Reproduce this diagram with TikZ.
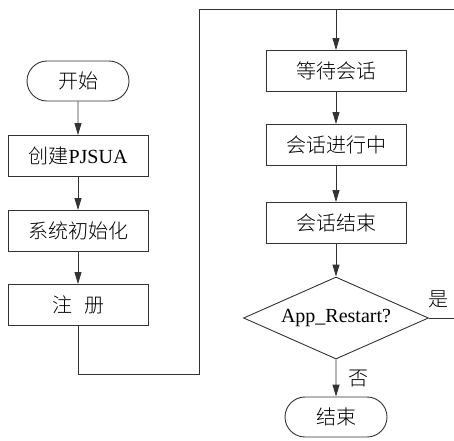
\documentclass[tikz,border=0pt]{standalone}
\usepackage{fontspec}
\setmainfont{Liberation Serif}
\newfontfamily\cjk{Noto Sans CJK SC Light}
\usetikzlibrary{shapes.misc,shapes.geometric,arrows.meta}
\begin{document}
\begin{tikzpicture}[x=1pt,y=-1pt,
  line/.style={draw=black!80,line width=0.9pt},
  arr/.style={line,-{Triangle[length=12pt,width=7pt]}},
  procbox/.style={line,rectangle,minimum width=140pt,minimum height=41pt,inner sep=0pt,font=\fontsize{20}{24}\selectfont},
  term/.style={line,rounded rectangle,minimum width=102pt,minimum height=40pt,inner sep=0pt,font=\fontsize{20}{24}\selectfont},
  decision/.style={line,diamond,aspect=2.25,minimum width=185pt,minimum height=82pt,inner sep=0pt,font=\fontsize{20}{24}\selectfont},
  lbl/.style={font=\fontsize{20}{24}\selectfont}]
\useasboundingbox (0,0) rectangle (454,440);
\clip (0,0) rectangle (454,440);
\node[term] (start) at (78,81) {\cjk 开始};
\node[procbox] (create) at (78,156) {\cjk 创建\rmfamily PJSUA};
\node[procbox] (init) at (78,231) {\cjk 系统初始化};
\node[procbox] (reg) at (78,305) {\cjk 注\hspace{0.6em}册};
\node[procbox] (wait) at (336,71) {\cjk 等待会话};
\node[procbox] (talk) at (336,145) {\cjk 会话进行中};
\node[procbox] (endt) at (336,223) {\cjk 会话结束};
\node[decision] (dec) at (336,318) {App\_Restart?};
\node[term] (stop) at (336,417) {\cjk 结束};
\coordinate (lb) at (199,374);
\coordinate (rt) at (456,9);
\draw[arr] (start) -- (create);
\draw[arr] (create) -- (init);
\draw[arr] (init) -- (reg);
\draw[line] (reg.south) |- (lb) |- (rt);
\draw[arr] (wait.north |- rt) -- (wait.north);
\draw[arr] (wait) -- (talk);
\draw[arr] (talk) -- (endt);
\draw[arr] (endt) -- (dec.north);
\draw[line] (dec.east) -- (dec.east -| rt);
\node[lbl] (yes) at (438,299) {\cjk 是};
\draw[arr] (dec.south) -- (stop);
\node[lbl] (no) at (358,378) {\cjk 否};
\end{tikzpicture}
\end{document}
